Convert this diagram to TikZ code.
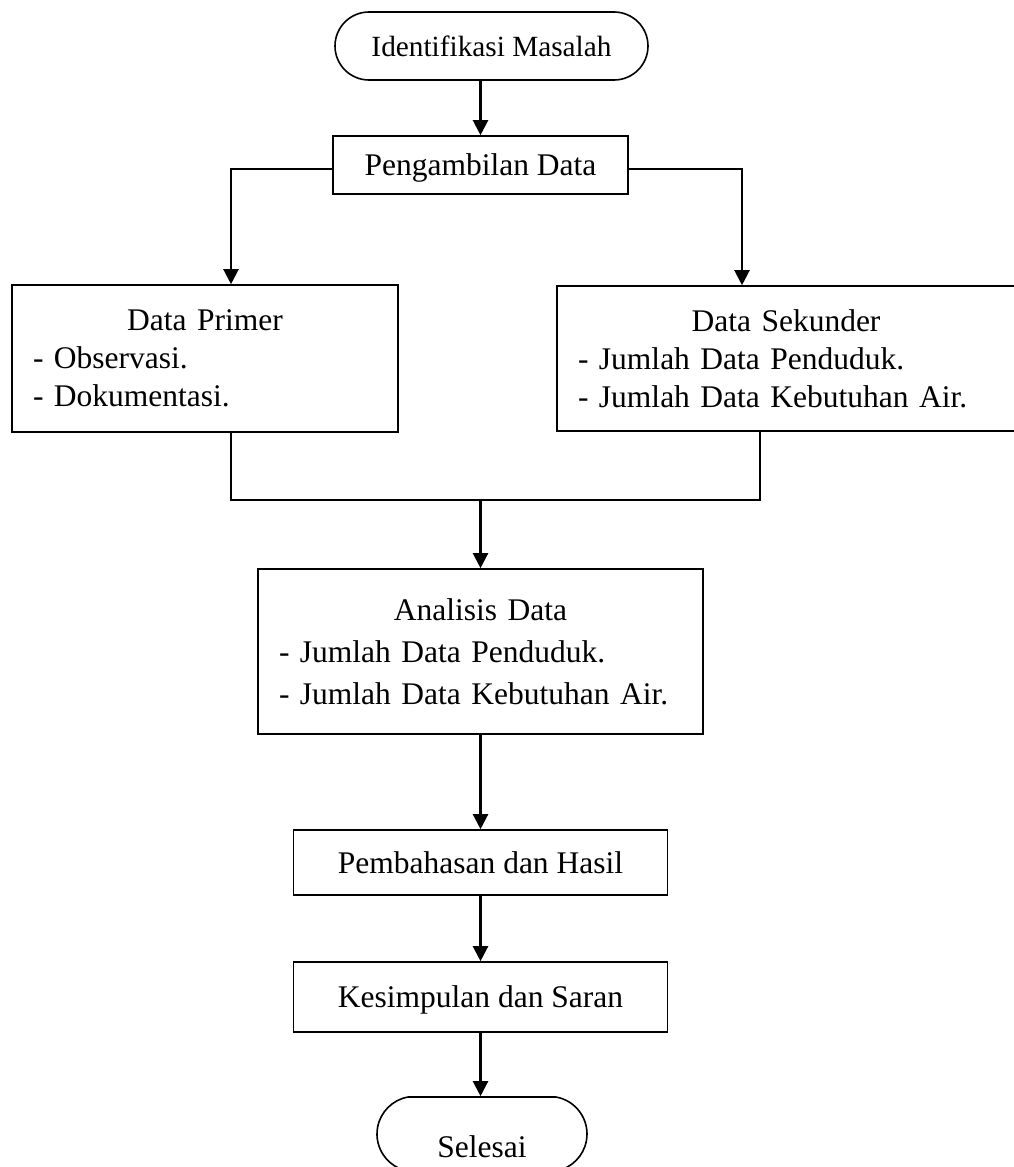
\documentclass[tikz,border=0pt]{standalone}
\usepackage{fontspec}
\setmainfont{Liberation Serif}
\usetikzlibrary{arrows.meta,shapes.misc}

\tikzset{
  box/.style={draw,line width=1.6pt,rectangle,inner sep=0pt,
    text height=21.5pt,text depth=0pt,
    font=\fontsize{31.5}{38}\selectfont},
  listbox/.style={draw,line width=1.6pt,rectangle,inner sep=0pt,
    align=left,font=\fontsize{31.5}{38}\selectfont},
  term/.style={box,rounded rectangle},
  arr/.style={line width=2.2pt,-{Triangle[length=15pt,width=15pt]}},
  link/.style={line width=1.8pt}
}

\begin{document}
\begin{tikzpicture}[x=1pt,y=-1pt]
\useasboundingbox (0,0) rectangle (1013,1167);

\node[term,minimum width=313pt,minimum height=68pt,text height=20pt,
  font=\fontsize{29.3}{36}\selectfont] (ident) at (491.5,46) {Identifikasi Masalah};
\node[box,minimum width=295pt,minimum height=58pt] (peng) at (480.5,165) {Pengambilan Data};

\node[listbox,minimum width=386pt,minimum height=147pt,text width=344pt] (prim) at (205,358.5)
  {\centering Data Primer\par\raggedright - Observasi.\par - Dokumentasi.};
\node[listbox,minimum width=458pt,minimum height=145pt,text width=416pt] (sek) at (786,358.5)
  {\centering Data Sekunder\par\raggedright - Jumlah Data Penduduk.\par - Jumlah Data Kebutuhan Air.};

\node[listbox,minimum width=445pt,minimum height=165pt,text width=403pt,
  font=\fontsize{31.5}{42}\selectfont] (anal) at (480.5,651.5)
  {\centering Analisis Data\par\raggedright - Jumlah Data Penduduk.\par - Jumlah Data Kebutuhan Air.};

\node[box,minimum width=374pt,minimum height=65pt] (pemb) at (480.5,862.5) {Pembahasan dan Hasil};
\node[box,minimum width=374pt,minimum height=70pt] (kes) at (480.5,997) {Kesimpulan dan Saran};
\node[term,rounded rectangle arc length=160,minimum width=210pt,minimum height=74pt,
  text height=0pt] (sel) at (482,1134) {\raisebox{-23pt}[0pt][0pt]{Selesai}};

% alur utama
\draw[arr] (ident.south -| peng.north) -- (peng.north);
\draw[arr] ([yshift=-4pt]peng.west) -| ([xshift=26pt]prim.north);
\draw[arr] ([yshift=-4pt]peng.east) -| ([xshift=-44pt]sek.north);

% gabungan data
\coordinate (join) at (480.5,500);
\draw[link] ([xshift=26pt]prim.south) |- (join) -| ([xshift=-26pt]sek.south);
\draw[arr] (join) -- (join |- anal.north);

\draw[arr] (anal.south) -- (pemb.north);
\draw[arr] (pemb.south) -- (kes.north);
\draw[arr] (kes.south) -- (kes.south |- sel.north);
\end{tikzpicture}
\end{document}
